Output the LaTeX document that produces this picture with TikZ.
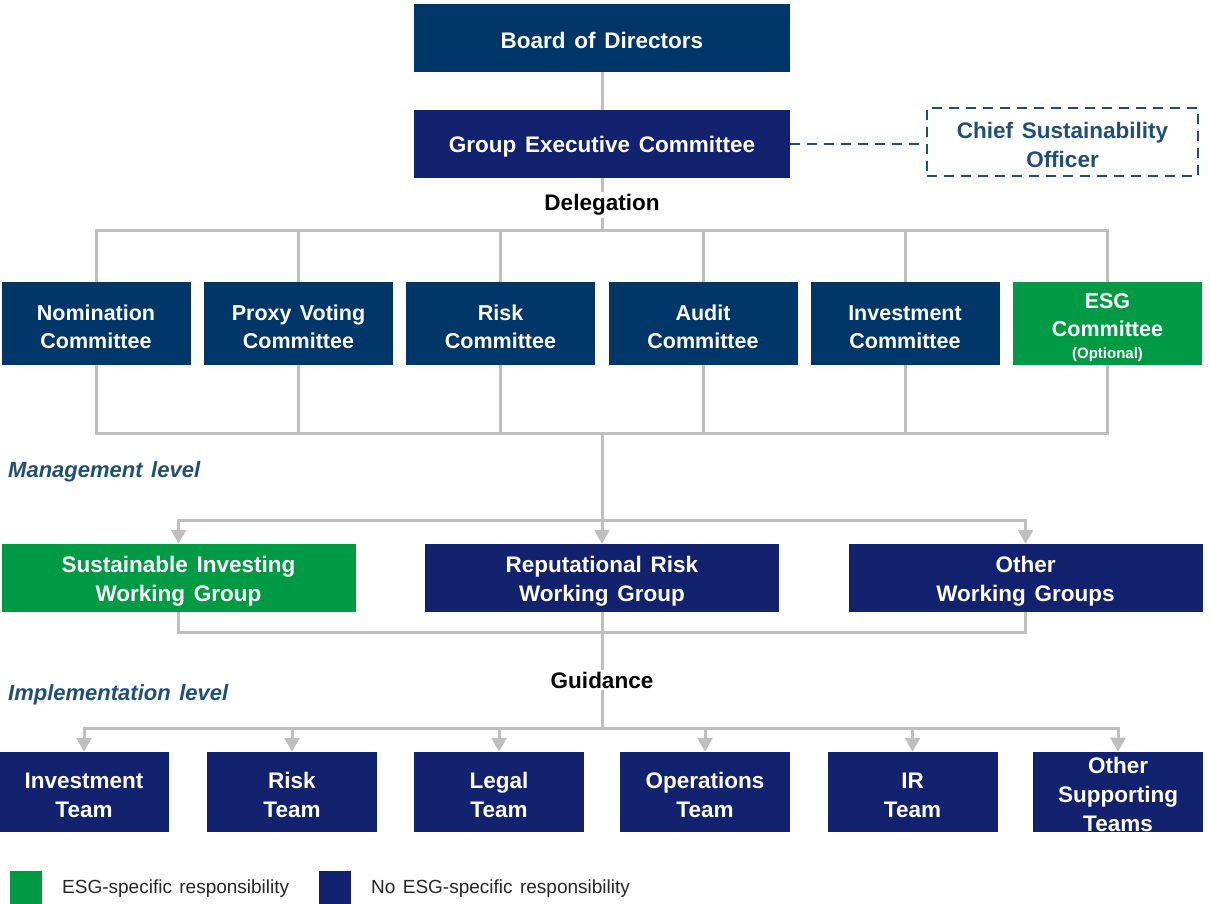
\documentclass[tikz,border=0pt]{standalone}
\usepackage{fontspec}
\setmainfont{Liberation Sans}[WordSpace=1.4]
\usetikzlibrary{arrows.meta}
\definecolor{boardblue}{HTML}{003768}
\definecolor{teamblue}{HTML}{13226E}
\definecolor{esggreen}{HTML}{009A44}
\definecolor{linegray}{HTML}{BFBFBF}
\definecolor{labelblue}{HTML}{1F4E79}
\definecolor{legendtext}{HTML}{262626}
% invisible strut that gives the first text line a uniform top
\newcommand{\toprow}{\rule{0pt}{22pt}}

\begin{document}
\begin{tikzpicture}[x=1pt,y=-1pt,
  unit/.style={rectangle, inner sep=0pt, align=center, text=white,
    font=\fontsize{22.5}{29}\selectfont\bfseries,
    execute at begin node={\toprow}},
  topbox/.style={unit, fill=#1, minimum width=376pt, minimum height=68pt},
  combox/.style={unit, fill=#1, minimum width=189pt, minimum height=83pt,
    font=\fontsize{21.5}{28}\selectfont\bfseries},
  wgbox/.style={unit, fill=#1, minimum width=354pt, minimum height=68pt},
  teambox/.style={unit, fill=teamblue, minimum width=170pt, minimum height=80pt},
  flowlabel/.style={inner sep=2pt, font=\fontsize{22.5}{27}\selectfont\bfseries},
  levellabel/.style={anchor=west, inner sep=0pt, text=labelblue,
    font=\fontsize{22}{26}\selectfont\bfseries\itshape},
  conn/.style={draw=linegray, line width=3pt},
  arr/.style={conn, -{Triangle[width=15pt,length=14pt]}},
  officer/.style={draw=labelblue, line width=2.5pt, dash pattern=on 10pt off 7pt,
    rectangle, inner sep=0pt, minimum width=271pt, minimum height=68pt,
    align=center, text=labelblue, font=\fontsize{22.5}{29}\selectfont\bfseries},
  swatch/.style={rectangle, inner sep=0pt, minimum width=32pt, minimum height=34pt},
  legendlabel/.style={anchor=west, inner sep=0pt, text=legendtext,
    font=\fontsize{19}{22}\selectfont}
]
\useasboundingbox (0,0) rectangle (1210,904);

% top of the hierarchy
\node[topbox=boardblue] (board) at (602,38) {Board of Directors};
\node[topbox=teamblue] (gec) at (602,144) {Group Executive Committee};
\node[officer] (cso) at (1062.5,142) {\toprow Chief Sustainability\\Officer};
\node[flowlabel] (deleg) at (602,205) {Delegation};

% committees
\node[combox=boardblue] (nom) at (96,323.5) {\toprow Nomination\\Committee};
\node[combox=boardblue] (proxy) at (298.5,323.5) {\toprow Proxy Voting\\Committee};
\node[combox=boardblue] (riskc) at (500.5,323.5) {\toprow Risk\\Committee};
\node[combox=boardblue] (audit) at (703,323.5) {\toprow Audit\\Committee};
\node[combox=boardblue] (invc) at (905,323.5) {\toprow Investment\\Committee};
\node[combox=esggreen] (esg) at (1107.5,323.5) {\rule{0pt}{24pt}ESG\\Committee\\[-6pt]{\fontsize{15}{18}\selectfont(Optional)}};

% working groups
\node[levellabel] (mgmt) at (8,472) {Management level};
\node[wgbox=esggreen] (sus) at (178.5,578) {\toprow Sustainable Investing\\Working Group};
\node[wgbox=teamblue] (rep) at (602,578) {\toprow Reputational Risk\\Working Group};
\node[wgbox=teamblue] (owg) at (1025.5,578) {\toprow Other\\Working Groups};
\node[flowlabel] (guid) at (602,680) {Guidance};

% teams
\node[levellabel] (impl) at (8,695) {Implementation level};
\node[teambox] (t1) at (84,792) {\toprow Investment\\Team};
\node[teambox] (t2) at (292,792) {\toprow Risk\\Team};
\node[teambox] (t3) at (499,792) {\toprow Legal\\Team};
\node[teambox] (t4) at (705,792) {\toprow Operations\\Team};
\node[teambox] (t5) at (912.5,792) {\toprow IR\\Team};
\node[teambox] (t6) at (1118,792) {\toprow Other\\Supporting\\Teams};

% legend
\node[swatch, fill=esggreen] (sw1) at (26,888) {};
\node[legendlabel] (lg1) at (62,889) {ESG-specific responsibility};
\node[swatch, fill=teamblue] (sw2) at (335,888) {};
\node[legendlabel] (lg2) at (371,889) {No ESG-specific responsibility};

% junction points of the connector buses
\coordinate (bus1) at (602,231);
\coordinate (bus2) at (602,433);
\coordinate (bus3) at (602,520);
\coordinate (bus4) at (602,632);
\coordinate (bus5) at (602,728);

% connectors
\draw[conn] (board.south) -- (gec.north);
\draw[labelblue, line width=2.5pt, dash pattern=on 10pt off 7pt]
  (gec.east) -- (gec.east -| cso.west);
\draw[conn] (gec.south) -- (deleg.north);
\draw[conn] (deleg.south) -- (bus1);
\foreach \c in {nom,proxy,riskc,audit,invc,esg}{
  \draw[conn] (\c.north) |- (bus1);
  \draw[conn] (\c.south) |- (bus2);
}
\draw[arr] (bus2) -- (rep.north);
\draw[arr] (bus3) -| (sus.north);
\draw[arr] (bus3) -| (owg.north);
\draw[conn] (sus.south) |- (bus4);
\draw[conn] (owg.south) |- (bus4);
\draw[conn] (rep.south) -- (guid.north);
\draw[conn] (guid.south) -- (bus5);
\foreach \t in {t1,t2,t3,t4,t5,t6}{
  \draw[arr] (bus5) -| (\t.north);
}
\end{tikzpicture}
\end{document}
